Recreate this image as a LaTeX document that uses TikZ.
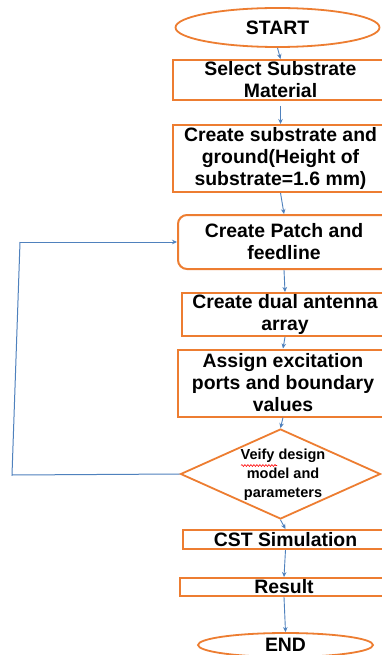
\documentclass[tikz,border=0pt]{standalone}
\usepackage{fontspec}
\setmainfont{Liberation Sans}
\usetikzlibrary{shapes.geometric,arrows.meta,decorations.pathmorphing}
\definecolor{orng}{HTML}{ED7D31}
\definecolor{blu}{HTML}{4F81BD}
\begin{document}
\begin{tikzpicture}[x=1pt,y=-1pt,
  box/.style={draw=orng,line width=2pt,rectangle,inner sep=0pt,align=center,
    font=\bfseries\fontsize{19.4}{22}\selectfont},
  oval/.style={draw=orng,line width=1.8pt,ellipse,inner sep=0pt,
    font=\bfseries\fontsize{19.4}{22}\selectfont},
  arr/.style={draw=blu,line width=0.9pt,-{Stealth[length=5pt,width=4.5pt]}},
  lnk/.style={draw=blu,line width=1pt}]
\useasboundingbox (0,0) rectangle (381,655);
\fill[white] (0,0) rectangle (381,655);
% nodes
\node[oval,minimum width=204pt,minimum height=39pt] (start) at (277.5,27.5) {START};
\node[box,minimum width=215pt,minimum height=40pt] (sel) at (280.5,80) {Select Substrate\\Material};
\node[box,minimum width=215pt,minimum height=67pt] (sub) at (280.5,158.5) {Create substrate and\\ground(Height of\\substrate=1.6 mm)};
\node[box,rounded corners=9pt,minimum width=212pt,minimum height=54pt] (patch) at (284,242) {Create Patch and\\feedline};
\node[box,minimum width=206pt,minimum height=43pt] (dual) at (285,314.5) {Create dual antenna\\array};
\node[box,minimum width=210pt,minimum height=67pt] (assign) at (283,383) {Assign excitation\\ports and boundary\\values};
\node[draw=orng,line width=1.8pt,diamond,inner sep=0pt,minimum width=200pt,minimum height=90pt] (dia) at (280.5,474) {};
\node[align=center,font=\bfseries\fontsize{14.5}{19}\selectfont] (diatext) at (283,475) {Veify design\\model and\\parameters};
\node[box,minimum width=205pt,minimum height=19pt] (cst) at (285.5,539.5) {CST Simulation};
\node[box,minimum width=208pt,minimum height=18pt] (res) at (284,587) {Result};
\node[oval,minimum width=175pt,minimum height=24pt] (end) at (285.5,645) {END};
% spell-check squiggle
\draw[red,line width=0.6pt,decorate,decoration={snake,amplitude=0.9pt,segment length=3pt}] (241,465.5) -- (277,465.5);
% arrows
\draw[arr] (start.south) -- (sel.north);
\draw[arr] ([yshift=-5pt]sel.south) -- (sub.north);
\draw[arr] (sub.south) -- (patch.north);
\draw[arr] (patch.south) -- (dual.north);
\draw[arr] (dual.south) -- (assign.north);
\draw[arr] (assign.south) -- (dia.north);
\draw[arr] (dia.south) -- (cst.north);
\draw[arr] (cst.south) -- (res.north);
\draw[arr] (res.south) -- (end.north);
% feedback loop
\coordinate (lb) at (12,475);
\coordinate (lt) at (20,242);
\draw[lnk] (dia.west) -- (lb) -- (lt);
\draw[arr] (lt) -- (patch.west);
\end{tikzpicture}
\end{document}
